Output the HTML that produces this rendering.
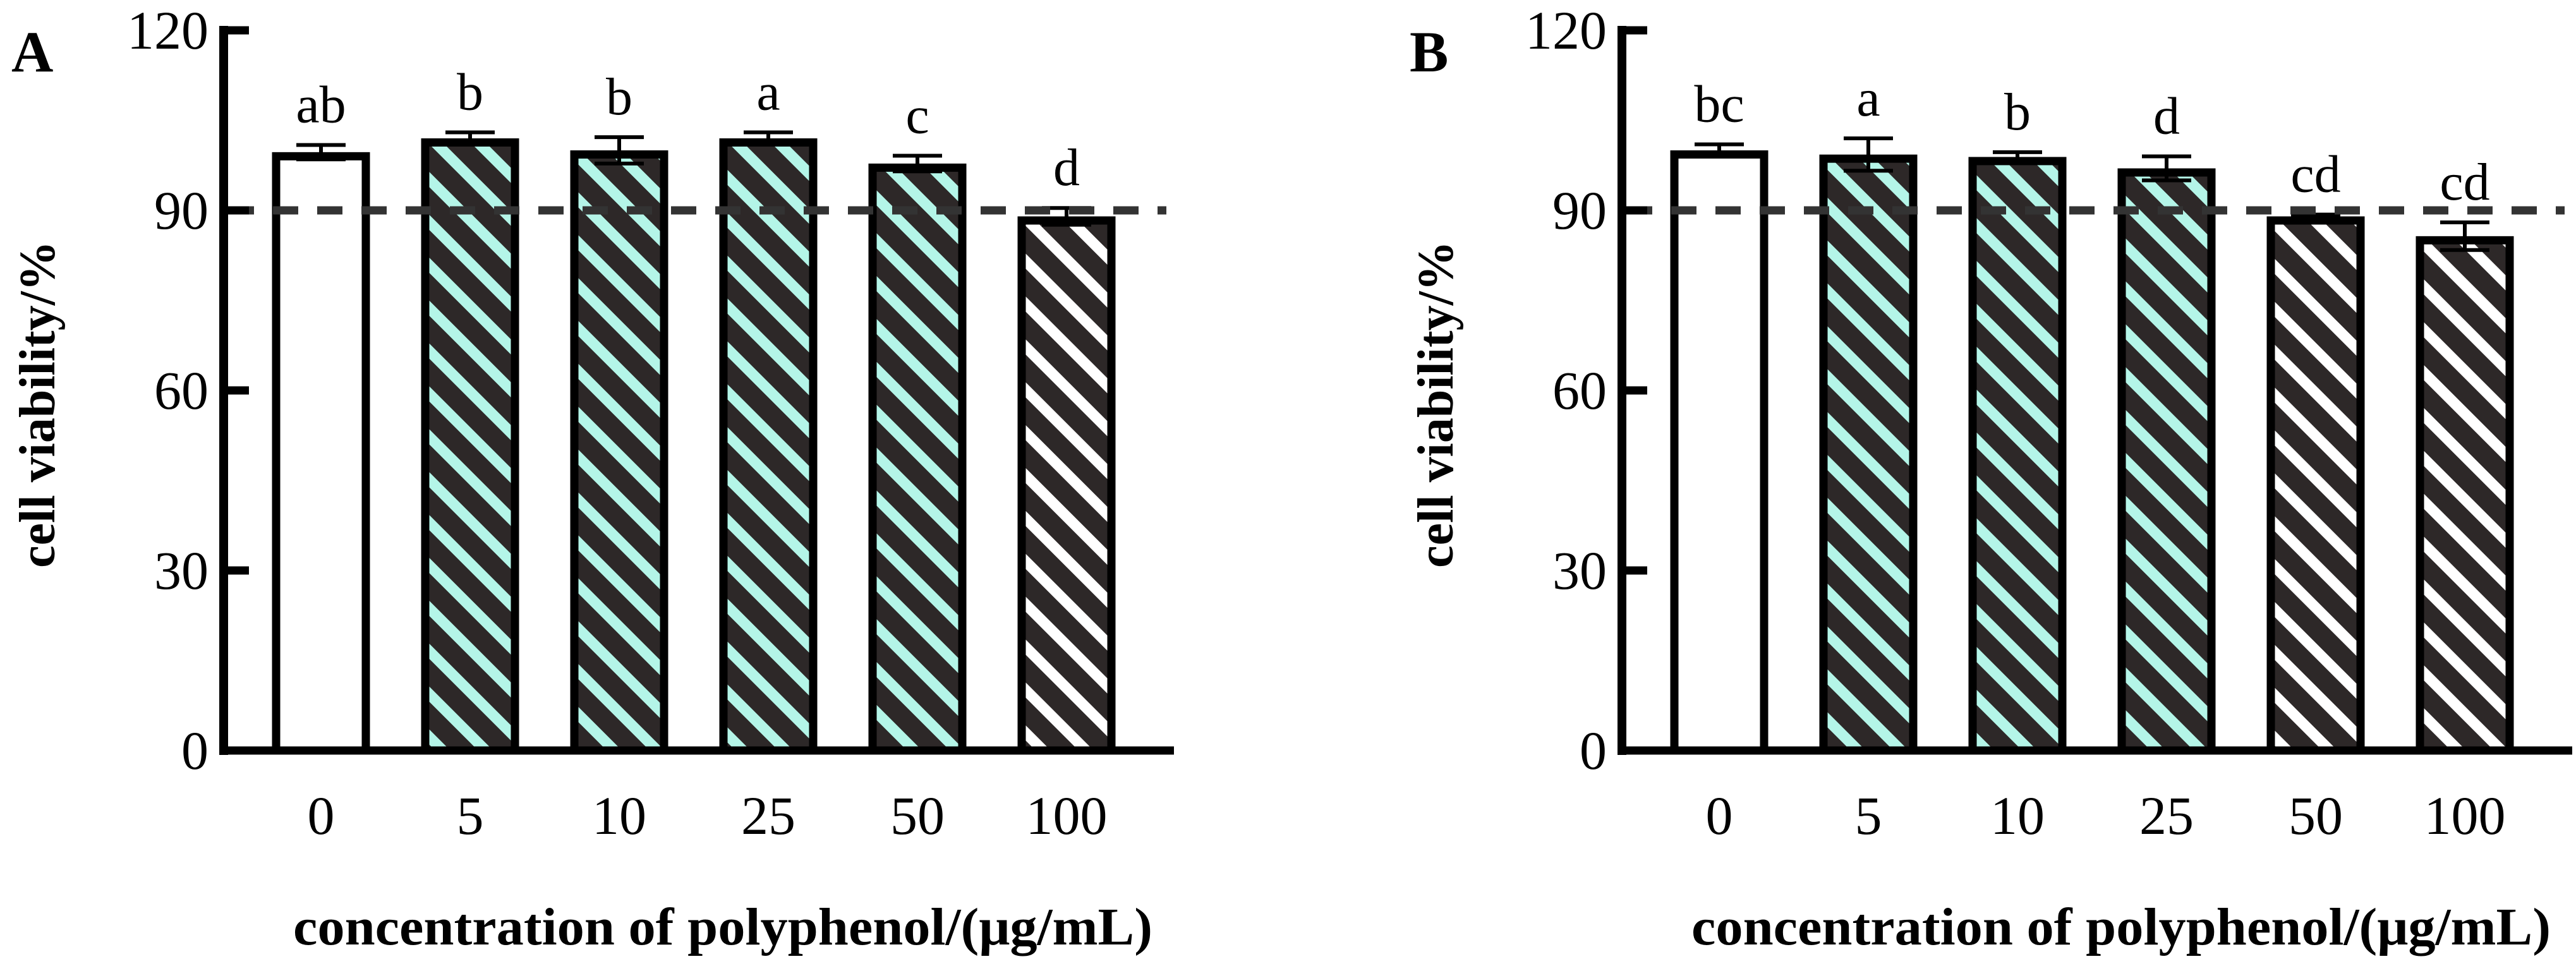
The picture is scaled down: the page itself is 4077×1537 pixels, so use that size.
<!DOCTYPE html>
<html><head><meta charset="utf-8"><style>
html,body{margin:0;padding:0;background:#fff;}
svg{display:block;}
text{font-family:"Liberation Serif",serif;}
</style></head>
<body>
<svg id="chart" width="4077" height="1537" viewBox="0 0 4077 1537" xmlns="http://www.w3.org/2000/svg">
<defs>
<pattern id="tealStripe" patternUnits="userSpaceOnUse" width="48" height="48" patternTransform="rotate(45)">
<rect width="48" height="48" fill="#2d2828"/><rect width="48" height="17" fill="#b4f5e8"/>
</pattern>
<pattern id="whiteStripe" patternUnits="userSpaceOnUse" width="48" height="48" patternTransform="rotate(45)">
<rect width="48" height="48" fill="#2d2828"/><rect width="48" height="17" fill="#ffffff"/>
</pattern>
</defs>
</svg>
<script>
const categories = ["0","5","10","25","50","100"];
const yTicks = [0,30,60,90,120];
const seriesA = [99.7,102.0,100.0,102.0,97.8,89.0];
const errorsA = [1.2,1.0,2.2,1.0,1.3,1.4];
const lettersA = ["ab","b","b","a","c","d"];
const fillsA = ["plain","teal","teal","teal","teal","white"];
const seriesB = [100.0,99.3,98.9,97.0,89.0,85.7];
const errorsB = [1.0,2.7,0.8,2.0,0.3,2.3];
const lettersB = ["bc","a","b","d","cd","cd"];
const fillsB = ["plain","teal","teal","teal","white","white"];
const threshold = 90;

const NS = "http://www.w3.org/2000/svg";
const svg = document.getElementById('chart');
function mk(tag, attrs, parent, txt){
  const e = document.createElementNS(NS, tag);
  for (const k in attrs) e.setAttribute(k, attrs[k]);
  if (txt !== undefined) e.textContent = txt;
  (parent||svg).appendChild(e);
  return e;
}
const Y0 = 1188, Y120 = 48;
function yScale(v){ return Y0 - (v/120)*(Y0 - Y120); }

function panel(dx, letter, series, errors, letters, fills, name){
  const g = mk('g', {}, svg);
  
  
  const axisX = 354 + dx;
  const xEnd = 1858 + dx;
  function xScale(i){ return 508 + dx + i*236; }
  const pl = mk('text', {x: 18+dx, y: 113, 'font-size': 92, 'font-weight': 'bold'}, g, letter);
  
  
  series.forEach((v, i) => {
    const cx = xScale(i), w = 155, top = yScale(v);
    const f = fills[i] === 'teal' ? 'url(#tealStripe)' : (fills[i] === 'white' ? 'url(#whiteStripe)' : '#fff');
    const r = mk('rect', {x: cx - w/2 + 6.5, y: top + 6.5, width: w - 13, height: Y0 - top - 6.5, fill: f, stroke: '#000', 'stroke-width': 13}, g);
    
    
    const up = yScale(v + errors[i]), lo = yScale(v - errors[i]);
    const eb = mk('path', {d: `M${cx},${up}V${lo}M${cx-39},${up}H${cx+39}M${cx-39},${lo}H${cx+39}`, stroke: '#000', 'stroke-width': 6, fill: 'none'}, g);
    
    
    const lt = mk('text', {x: cx, y: up - 36, 'font-size': 84, 'text-anchor': 'middle'}, g, letters[i]);
    
    
    const xt = mk('text', {x: cx, y: 1320, 'font-size': 86, 'text-anchor': 'middle'}, g, categories[i]);
    
    
  });
  const dl = mk('line', {x1: axisX+8, x2: xEnd-12, y1: yScale(threshold), y2: yScale(threshold), stroke: '#333', 'stroke-width': 13, 'stroke-dasharray': '40 30'}, g);
  
  
  const ya = mk('line', {x1: axisX, x2: axisX, y1: Y120 - 7, y2: Y0 + 7, stroke: '#000', 'stroke-width': 14}, g);
  
  
  const xa = mk('line', {x1: axisX - 7, x2: xEnd, y1: Y0, y2: Y0, stroke: '#000', 'stroke-width': 13}, g);
  
  
  yTicks.forEach(t => {
    const y = yScale(t);
    const tk = mk('line', {x1: axisX, x2: axisX + 40, y1: y, y2: y, stroke: '#000', 'stroke-width': 13}, g);
    
    
    const tl = mk('text', {x: axisX - 24, y: y + 29, 'font-size': 86, 'text-anchor': 'end'}, g, String(t));
    
    
  });
  const yt = mk('text', {x: 0, y: 0, 'font-size': 80, 'font-weight': 'bold', 'text-anchor': 'middle', transform: `translate(${86+dx},640) rotate(-90)`}, g, 'cell viability/%');
  
  
  const xt = mk('text', {x: 1144 + dx, y: 1495, 'font-size': 84, 'font-weight': 'bold', 'text-anchor': 'middle', textLength: 1360, lengthAdjust: 'spacingAndGlyphs'}, g, 'concentration of polyphenol/(μg/mL)');
  
  
}
panel(0, 'A', seriesA, errorsA, lettersA, fillsA, 'panel-a');
panel(2213, 'B', seriesB, errorsB, lettersB, fillsB, 'panel-b');
</script>
</body></html>
